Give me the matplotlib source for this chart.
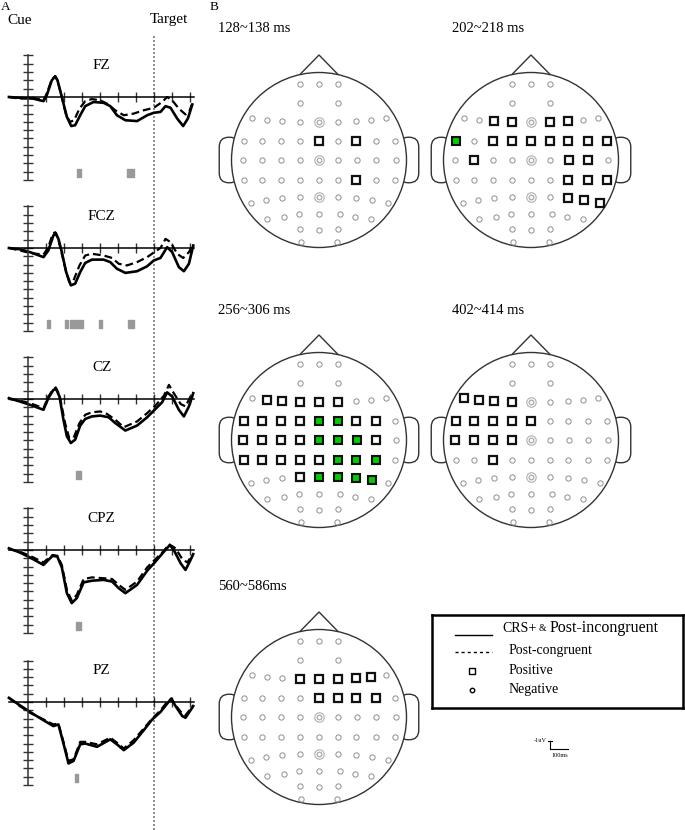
import numpy as np
import matplotlib.pyplot as plt
from matplotlib.patches import Circle, FancyBboxPatch

plt.rcParams['font.family'] = ['Liberation Serif', 'DejaVu Serif']

# ---------------- ERP data (ms, uV; negative plotted up) ----------------
channels = ['FZ', 'FCZ', 'CZ', 'CPZ', 'PZ']

fz_t_inc = [-106, -45, 30, 86, 104, 132, 151, 164, 188, 216, 240, 262, 290, 318, 364, 420, 457, 494, 541, 606, 662, 699, 736, 764, 792, 829, 862, 888, 913]
fz_v_inc = [0, 0.1, 0.2, 0.5, -0.2, -2.0, -2.5, -2.0, 0, 2.4, 3.5, 3.4, 2.2, 1.1, 0.6, 0.7, 1.1, 2.2, 2.8, 2.9, 2.2, 1.9, 1.8, 1.1, 1.3, 2.6, 3.5, 2.6, 0.9]
fz_t_con = [-106, -45, 30, 86, 104, 132, 151, 164, 188, 212, 234, 256, 286, 318, 355, 401, 439, 485, 532, 587, 643, 699, 745, 773, 801, 838, 875, 899, 918]
fz_v_con = [0, 0.2, 0.1, 0.4, -0.4, -2.1, -2.5, -2.0, 0, 2.2, 3.0, 2.8, 1.4, 0.5, 0.25, 0.4, 0.8, 1.6, 2.2, 2.0, 1.6, 1.3, 0.6, 0, 0.4, 1.4, 2.1, 1.6, 0.4]

fcz_t_inc = [-106, -45, 11, 86, 113, 141, 154, 169, 188, 212, 238, 262, 290, 318, 355, 420, 457, 494, 541, 606, 662, 699, 736, 773, 801, 838, 866, 894, 918]
fcz_v_inc = [0, 0.15, 0.5, 1.1, 0.3, -1.5, -1.8, -1.1, 0.5, 2.9, 4.5, 4.3, 2.9, 1.8, 1.4, 1.4, 1.7, 2.5, 3.0, 2.8, 2.2, 1.5, 1.2, -0.1, 0.5, 2.3, 2.8, 1.9, -0.3]
fcz_t_con = [-106, -45, 11, 86, 113, 137, 151, 169, 188, 210, 229, 253, 286, 318, 355, 420, 467, 504, 550, 606, 662, 708, 736, 764, 792, 829, 862, 894, 918]
fcz_v_con = [0, 0.3, 0.6, 0.8, -0.1, -1.7, -1.9, -1.0, 0.7, 2.7, 4.1, 3.9, 2.1, 0.9, 0.7, 0.9, 1.2, 1.9, 2.1, 1.7, 1.1, 0.4, 0, -1.1, -0.7, 0.7, 1.2, 0.5, -0.5]

cz_t_inc = [-106, -45, 11, 86, 113, 141, 156, 175, 197, 216, 238, 262, 290, 318, 355, 401, 448, 485, 541, 606, 662, 708, 745, 773, 801, 838, 866, 894, 918]
cz_v_inc = [-0.1, 0.3, 0.7, 1.3, -0.1, -1.1, -1.2, -0.3, 2.5, 4.5, 5.3, 4.9, 3.2, 2.4, 2.1, 2.0, 2.2, 2.9, 3.8, 3.2, 2.2, 1.2, 0.4, -0.8, -0.3, 1.3, 2.1, 0.9, -0.7]
cz_t_con = [-106, -45, 11, 86, 113, 141, 154, 175, 206, 229, 253, 286, 318, 355, 401, 439, 485, 532, 606, 662, 708, 755, 783, 810, 848, 875, 903, 918]
cz_v_con = [0, 0.2, 0.5, 1.1, -0.3, -1.2, -1.4, -0.5, 2.9, 4.7, 4.7, 2.9, 1.9, 1.6, 1.5, 1.8, 2.5, 3.4, 2.7, 1.7, 0.8, -0.4, -1.7, -0.7, 0.6, 0.9, -0.3, -0.8]

cpz_t_inc = [-106, -45, 11, 86, 113, 137, 163, 188, 216, 243, 271, 309, 355, 420, 467, 504, 541, 606, 662, 708, 755, 788, 810, 848, 875, 903, 918]
cpz_v_inc = [-0.2, 0.3, 0.9, 1.8, 1.2, 0.7, 0.8, 2.1, 5.2, 6.4, 5.8, 3.9, 3.7, 3.6, 3.8, 4.6, 5.2, 4.2, 2.5, 1.4, 0.2, -0.6, 0, 1.6, 2.4, 1.2, 0.5]
cpz_t_con = [-106, -45, 11, 86, 113, 137, 163, 188, 216, 243, 271, 309, 355, 420, 467, 504, 541, 606, 662, 708, 755, 783, 820, 857, 885, 913]
cpz_v_con = [-0.1, 0.2, 0.7, 1.5, 1.0, 0.6, 0.7, 1.8, 4.8, 6.1, 5.4, 3.5, 3.3, 3.4, 3.5, 4.2, 4.8, 3.8, 2.1, 1.1, 0.1, -0.7, -0.2, 1.1, 1.5, 0.6]

pz_t_inc = [-106, -45, 11, 86, 141, 169, 197, 225, 253, 290, 318, 383, 457, 494, 532, 587, 643, 690, 736, 773, 796, 820, 857, 875, 918]
pz_v_inc = [-0.5, 0.4, 1.2, 2.2, 2.9, 2.7, 5.0, 7.4, 7.1, 5.1, 5.0, 5.4, 4.5, 5.1, 5.8, 4.9, 3.4, 2.1, 1.2, 0.2, -0.4, 0.5, 1.7, 1.9, 0.5]
pz_t_con = [-106, -45, 11, 86, 141, 169, 197, 225, 253, 290, 318, 383, 457, 494, 532, 587, 643, 690, 736, 773, 796, 820, 857, 875, 918]
pz_v_con = [-0.5, 0.5, 1.3, 2.1, 2.7, 2.6, 4.8, 7.1, 6.9, 4.8, 4.8, 5.1, 4.3, 4.9, 5.6, 4.6, 3.2, 2.0, 1.0, 0, -0.4, 0.4, 1.4, 1.6, 0.4]

# significant time windows (ms) shown as gray bars
fz_sig = [(272, 294), (550, 589)]
fcz_sig = [(106, 122), (206, 222), (233, 306), (394, 411), (556, 589)]
cz_sig = [(267, 294)]
cpz_sig = [(267, 294)]
pz_sig = [(261, 278)]

erp_inc = [(fz_t_inc, fz_v_inc), (fcz_t_inc, fcz_v_inc), (cz_t_inc, cz_v_inc), (cpz_t_inc, cpz_v_inc), (pz_t_inc, pz_v_inc)]
erp_con = [(fz_t_con, fz_v_con), (fcz_t_con, fcz_v_con), (cz_t_con, cz_v_con), (cpz_t_con, cpz_v_con), (pz_t_con, pz_v_con)]
sig_bars = [fz_sig, fcz_sig, cz_sig, cpz_sig, pz_sig]
target_ms = 700

# ---------------- electrode layout (head radius = 1) ----------------
elec_names = ['FP1', 'FPZ', 'FP2', 'AF3', 'AF4',
              'F7', 'F5', 'F3', 'F1', 'FZ', 'F2', 'F4', 'F6', 'F8',
              'FT7', 'FC5', 'FC3', 'FC1', 'FCZ', 'FC2', 'FC4', 'FC6', 'FT8',
              'T7', 'C5', 'C3', 'C1', 'CZ', 'C2', 'C4', 'C6', 'T8',
              'TP7', 'CP5', 'CP3', 'CP1', 'CPZ', 'CP2', 'CP4', 'CP6', 'TP8',
              'P7', 'P5', 'P3', 'P1', 'PZ', 'P2', 'P4', 'P6', 'P8',
              'PO7', 'PO5', 'PO3', 'POZ', 'PO4', 'PO6', 'PO8',
              'O1', 'OZ', 'O2', 'CB1', 'CB2']
elec_x = [-0.221, 0, 0.217, -0.221, 0.217,
          -0.762, -0.590, -0.419, -0.221, 0, 0.217, 0.427, 0.598, 0.770,
          -0.857, -0.648, -0.430, -0.221, 0, 0.217, 0.427, 0.655, 0.865,
          -0.869, -0.648, -0.430, -0.221, 0, 0.217, 0.438, 0.655, 0.876,
          -0.857, -0.648, -0.430, -0.221, 0, 0.217, 0.427, 0.655, 0.865,
          -0.781, -0.602, -0.419, -0.221, 0, 0.217, 0.427, 0.610, 0.789,
          -0.590, -0.400, -0.229, 0, 0.236, 0.408, 0.598,
          -0.221, 0, 0.217, -0.202, 0.210]
elec_y = [0.865, 0.865, 0.865, 0.648, 0.648,
          0.484, 0.457, 0.446, 0.438, 0.438, 0.438, 0.446, 0.457, 0.484,
          0.221, 0.221, 0.221, 0.221, 0.221, 0.221, 0.221, 0.221, 0.221,
          0, 0, 0, 0, 0, 0, 0, 0, 0,
          -0.229, -0.229, -0.229, -0.229, -0.229, -0.229, -0.229, -0.229, -0.229,
          -0.495, -0.457, -0.438, -0.419, -0.419, -0.419, -0.438, -0.457, -0.495,
          -0.674, -0.648, -0.621, -0.621, -0.621, -0.648, -0.674,
          -0.789, -0.800, -0.789, -0.933, -0.933]
ref_elec = ['FZ', 'CZ', 'PZ']

windows = ['128~138 ms', '202~218 ms', '256~306 ms', '402~414 ms', '560~586ms']
win_pos = [
    ['FCZ', 'FC4', 'CP4'],
    ['F3', 'F1', 'F2', 'F4', 'FC3', 'FC1', 'FCZ', 'FC2', 'FC4', 'FC6', 'FT8',
     'C5', 'C4', 'C6', 'CP4', 'CP6', 'TP8', 'P4', 'P6', 'P8'],
    ['F5', 'F3', 'F1', 'FZ', 'F2', 'FT7', 'FC5', 'FC3', 'FC1', 'FC4', 'FC6',
     'T7', 'C5', 'C3', 'C1', 'C6', 'TP7', 'CP5', 'CP3', 'CP1', 'CPZ', 'P1'],
    ['F7', 'F5', 'F3', 'F1', 'FT7', 'FC5', 'FC3', 'FC1', 'FCZ', 'T7', 'C5', 'C3', 'C1', 'CP3'],
    ['F1', 'FZ', 'F2', 'F4', 'F6', 'FCZ', 'FC2', 'FC4', 'FC6'],
]
win_green = [
    [],
    ['FT7'],
    ['FCZ', 'FC2', 'CZ', 'C2', 'C4', 'CP2', 'CP4', 'CP6', 'PZ', 'P2', 'P4', 'P6'],
    [],
    [],
]

# ---------------- layout helpers (pixels) ----------------
W, H = 685, 830
fig = plt.figure(figsize=(W / 100, H / 100), dpi=100)


def px_axes(left, top, width, height):
    return fig.add_axes([left / W, 1 - (top + height) / H, width / W, height / H])


# ERP geometry: 0 ms at x=28px, 0.18 px/ms ; 8.3 px per uV
x0_px, px_ms, px_uv = 28, 0.18, 8.3
t_lo, t_hi = -150, 960
v_top, v_bot = -6, 11
baselines = [97, 248, 399, 550, 702]

# dotted target line over the whole left column
axl = px_axes(x0_px + t_lo * px_ms, 35, (t_hi - t_lo) * px_ms, H - 35)
axl.set_xlim(t_lo, t_hi)
axl.set_ylim(0, 1)
axl.axvline(target_ms, color='#7a7a7a', lw=1.2, ls=(0, (1.2, 1.2)))
axl.axis('off')

for i, ch in enumerate(channels):
    b = baselines[i]
    ax = px_axes(x0_px + t_lo * px_ms, b + v_top * px_uv, (t_hi - t_lo) * px_ms, (v_bot - v_top) * px_uv)
    ax.set_xlim(t_lo, t_hi)
    ax.set_ylim(v_bot, v_top)
    ax.patch.set_visible(False)
    for s in ['top', 'right']:
        ax.spines[s].set_visible(False)
    ax.spines['left'].set_position(('data', 0))
    ax.spines['bottom'].set_position(('data', 0))
    ax.spines['left'].set_bounds(10, -5)
    ax.spines['bottom'].set_bounds(-106, 920)
    ax.spines['left'].set_linewidth(1.1)
    ax.spines['bottom'].set_linewidth(1.1)
    ax.spines['left'].set_color('#333333')
    ax.set_xticks(np.arange(100, 901, 100))
    ax.set_yticks(np.arange(-5, 11, 1))
    ax.tick_params(direction='inout', length=7, width=1, colors='#333333',
                   labelbottom=False, labelleft=False)
    t, v = erp_inc[i]
    ax.plot(t, v, color='black', lw=1.9, solid_joinstyle='round')
    t, v = erp_con[i]
    ax.plot(t, v, color='black', lw=1.6, ls=(0, (3.5, 1.8)))
    ax.broken_barh([(a, e - a) for a, e in sig_bars[i]], (8.7, 0.9), color='#999999')
    ax.text(410, -3.8, ch, ha='center', va='center', fontsize=11)

fig.text(1 / W, 1 - 7 / H, 'A', fontsize=9.5, ha='left', va='center')
fig.text(7 / W, 1 - 20 / H, 'Cue', fontsize=11, ha='left', va='center')
fig.text(169 / W, 1 - 20 / H, 'Target', fontsize=11, ha='center', va='center')
fig.text(210 / W, 1 - 7 / H, 'B', fontsize=9.5, ha='left', va='center')

# ---------------- head maps ----------------
head_centers = [(319, 160), (531, 160), (319, 440), (531, 440), (319, 717)]
title_pos = [(218, 28), (452, 28), (218, 310), (452, 310), (218, 587)]
r_px = 87.5
half = 120
lim = half / r_px

for k in range(5):
    cx, cy = head_centers[k]
    ax = px_axes(cx - half, cy - half, 2 * half, 2 * half)
    ax.set_xlim(-lim, lim)
    ax.set_ylim(-lim, lim)
    ax.axis('off')
    for sgn in (-1, 1):
        ear = FancyBboxPatch((sgn * 1.025 - 0.115, -0.26), 0.23, 0.52,
                             boxstyle='round,pad=0,rounding_size=0.11',
                             fc='white', ec='#333333', lw=1.0, zorder=1)
        ax.add_patch(ear)
    ax.plot([-0.22, 0, 0.22], [0.975, 1.2, 0.975], color='#333333', lw=1.0, zorder=1)
    ax.add_patch(Circle((0, 0), 1, fc='white', ec='#333333', lw=1.0, zorder=2))

    pos = win_pos[k]
    grn = win_green[k]
    for n, ex, ey in zip(elec_names, elec_x, elec_y):
        if n in grn:
            ax.plot(ex, ey, marker='s', ms=5.2, mfc='#00cc00', mec='#111111', mew=1.5, zorder=4)
        elif n in pos:
            ax.plot(ex, ey, marker='s', ms=5.2, mfc='white', mec='#111111', mew=1.6, zorder=4)
        elif n in ref_elec:
            ax.plot(ex, ey, marker='o', ms=6.8, mfc='none', mec='#b0b0b0', mew=0.8, zorder=3)
            ax.plot(ex, ey, marker='o', ms=3.4, mfc='none', mec='#a0a0a0', mew=0.8, zorder=3)
        else:
            ax.plot(ex, ey, marker='o', ms=3.8, mfc='none', mec='#8e8e8e', mew=0.7, zorder=3)
    tx, ty = title_pos[k]
    fig.text(tx / W, 1 - ty / H, windows[k], fontsize=10.5, ha='left', va='center')

# ---------------- legend ----------------
axg = px_axes(432, 615, 251, 93)
axg.set_xlim(0, 1)
axg.set_ylim(0, 1)
axg.set_xticks([])
axg.set_yticks([])
for s in axg.spines.values():
    s.set_linewidth(1.8)
axg.plot([0.092, 0.239], [0.785, 0.785], color='black', lw=1.0)
axg.text(0.279, 0.86, 'CRS+', fontsize=10, va='center', ha='left')
axg.text(0.425, 0.86, '&', fontsize=7, va='center', ha='left')
axg.text(0.47, 0.86, 'Post-incongruent', fontsize=11.5, va='center', ha='left')
axg.plot([0.092, 0.239], [0.60, 0.60], color='black', lw=1.0, ls=(0, (2.2, 2.2)))
axg.text(0.303, 0.613, 'Post-congruent', fontsize=10, va='center', ha='left')
axg.plot(0.159, 0.398, marker='s', ms=3.8, mfc='white', mec='black', mew=1.0)
axg.text(0.303, 0.398, 'Positive', fontsize=10, va='center', ha='left')
axg.plot(0.159, 0.194, marker='o', ms=3.2, mfc='white', mec='black', mew=1.0)
axg.text(0.303, 0.194, 'Negative', fontsize=10, va='center', ha='left')

# ---------------- scale bar ----------------
axs = px_axes(550, 741, 100 * px_ms, 1 * px_uv)
axs.set_xlim(0, 100)
axs.set_ylim(0, 1)
axs.axis('off')
axs.plot([0, 0], [0, 1], color='black', lw=0.8, clip_on=False)
axs.plot([0, 100], [0, 0], color='black', lw=0.8, clip_on=False)
axs.plot([-12, 12], [1, 1], color='black', lw=0.8, clip_on=False)
axs.text(-18, 1.1, '-1uV', fontsize=4.5, ha='right', va='center')
axs.text(55, -0.5, '100ms', fontsize=4.5, ha='center', va='top')

fig.savefig('out.png', dpi=100)
